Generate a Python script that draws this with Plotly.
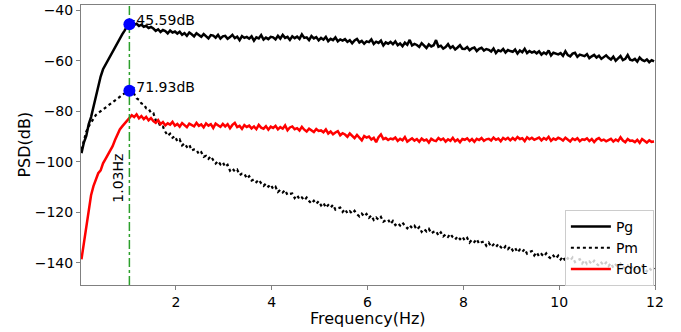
import numpy as np
import plotly.graph_objects as go

# Frequency grid (Hz): 0.03 .. 11.98, step 0.05
freq_start = 0.03
freq_step = 0.05
n_points = 240
freq = np.round(freq_start + freq_step * np.arange(n_points), 2)

pg = [
    -96.6, -92.4, -89.8, -85.2, -82.3, -78.1, -74.2, -69.8, -66.3, -63.4,
    -61.6, -60.2, -58.1, -56.4, -54.9, -52.8, -51.3, -49.6, -48.1, -46.4,
    -45.6, -45.1, -45.9, -45.4, -46.3, -45.8, -46.6, -46.2, -47.1, -46.7,
    -47.3, -48.2, -47.6, -48.7, -47.9, -48.3, -49.2, -48.1, -48.9, -48.5,
    -49.3, -48.6, -49.8, -49.1, -50.2, -48.9, -49.6, -50.4, -49.2, -49.9,
    -50.6, -49.5, -50.3, -51.2, -49.9, -50.1, -50.9, -49.8, -51.3, -50.4,
    -50.2, -51.4, -50.7, -49.8, -51.1, -50.5, -51.9, -50.3, -51.0, -50.6,
    -51.3, -50.4, -52.1, -50.8, -51.2, -49.9, -51.7, -50.9, -51.5, -50.6,
    -50.8, -51.6, -50.2, -51.3, -49.8, -51.0, -50.6, -51.8, -50.4, -51.1,
    -50.5, -51.4, -49.6, -51.0, -50.8, -51.9, -50.3, -51.2, -50.7, -52.0,
    -51.0, -51.7, -50.6, -52.3, -51.4, -51.9, -50.8, -52.4, -51.6, -52.1,
    -51.5, -52.6, -51.9, -53.1, -52.0, -51.4, -52.8, -52.2, -53.3, -52.4,
    -52.7, -51.6, -53.4, -52.5, -53.0, -52.1, -54.0, -52.8, -53.3, -52.6,
    -53.5, -52.4, -53.9, -53.2, -54.3, -52.9, -53.7, -51.8, -54.0, -53.4,
    -53.8, -54.6, -53.1, -54.2, -55.0, -53.6, -54.4, -53.9, -51.9, -54.5,
    -54.1, -55.2, -54.6, -53.5, -55.0, -54.3, -55.6, -54.8, -53.9, -55.3,
    -55.4, -54.6, -55.9, -55.1, -54.8, -56.2, -55.3, -54.9, -56.0, -55.4,
    -55.7, -56.4, -55.2, -57.0, -55.9, -56.3, -55.4, -56.8, -55.8, -56.2,
    -56.5, -55.6, -57.2, -56.0, -56.7, -55.3, -57.0, -56.2, -56.8, -56.4,
    -57.1, -56.3, -57.6, -56.8, -57.4, -56.0, -58.0, -56.9, -57.3, -57.5,
    -57.0, -58.1, -56.3, -57.8, -58.3, -57.2, -56.9, -58.5, -57.6, -58.0,
    -58.2, -57.4, -59.0, -58.3, -57.7, -58.8, -58.1, -59.3, -58.5, -57.9,
    -58.9, -59.6, -58.4, -60.0, -59.1, -58.2, -59.8, -59.3, -57.8, -59.6,
    -59.9, -59.3, -60.4, -58.8, -59.7, -60.2, -59.5, -60.6, -59.8, -60.3,
]

pm = [
    -95.2, -91.0, -88.1, -86.0, -84.6, -82.9, -81.5, -80.7, -80.0, -79.4,
    -78.8, -78.0, -77.3, -76.6, -75.8, -75.0, -74.3, -73.5, -72.9, -72.3,
    -71.9, -72.9, -73.2, -74.9, -75.5, -76.9, -77.3, -78.8, -79.0, -80.6,
    -80.7, -83.6, -83.9, -86.1, -86.1, -88.1, -89.7, -88.9, -90.5, -89.9,
    -91.9, -91.2, -93.5, -92.7, -94.1, -93.2, -95.5, -95.1, -95.2, -97.0,
    -96.2, -98.0, -97.6, -98.8, -97.8, -99.3, -100.7, -99.7, -101.0, -100.2,
    -102.0, -101.2, -103.5, -102.6, -103.8, -103.1, -105.2, -104.7, -104.7, -106.6,
    -105.7, -107.4, -106.9, -108.0, -107.1, -108.5, -109.5, -108.6, -109.8, -109.0,
    -110.7, -109.9, -111.9, -111.1, -112.1, -111.2, -113.1, -112.7, -112.5, -114.3,
    -113.2, -114.8, -114.1, -115.2, -114.1, -115.5, -116.5, -115.4, -116.6, -115.6,
    -117.2, -116.2, -118.1, -117.1, -118.1, -117.0, -118.9, -118.3, -118.1, -119.8,
    -118.7, -120.3, -119.5, -120.5, -119.4, -120.7, -121.6, -120.5, -121.6, -120.6,
    -122.1, -121.2, -123.0, -122.0, -122.9, -121.8, -123.7, -123.1, -122.8, -124.6,
    -123.4, -125.0, -124.2, -125.2, -124.0, -125.3, -126.3, -125.1, -126.2, -125.3,
    -126.8, -125.8, -127.7, -126.6, -127.5, -126.5, -128.3, -127.7, -127.4, -129.1,
    -127.9, -129.5, -128.7, -129.7, -128.5, -129.8, -130.7, -129.5, -130.6, -129.6,
    -131.1, -130.1, -131.9, -130.8, -131.7, -130.6, -132.4, -131.8, -131.5, -133.2,
    -132.0, -133.6, -132.7, -133.7, -132.5, -133.7, -134.6, -133.4, -134.5, -133.5,
    -135.0, -134.0, -135.8, -134.7, -135.6, -134.5, -136.3, -135.6, -135.3, -137.0,
    -135.8, -137.4, -136.5, -137.4, -136.2, -137.5, -138.3, -137.1, -138.2, -137.1,
    -138.6, -137.5, -139.3, -138.1, -139.0, -137.8, -139.6, -138.9, -138.5, -140.2,
    -138.9, -140.4, -139.4, -140.4, -139.1, -140.3, -141.1, -139.9, -140.9, -139.8,
    -141.2, -140.1, -141.9, -140.7, -141.5, -140.3, -142.0, -141.3, -140.9, -142.5,
    -141.2, -142.7, -141.7, -142.6, -141.3, -142.5, -143.3, -142.0, -143.0, -141.9,
]

fdot = [
    -138.5, -131.8, -124.6, -118.9, -113.2, -109.6, -107.3, -104.5, -103.4, -100.6,
    -98.9, -97.2, -95.6, -93.8, -91.4, -89.1, -87.2, -86.0, -84.9, -83.6,
    -82.4, -81.6, -82.3, -81.2, -82.8, -81.9, -83.1, -82.2, -83.6, -82.7,
    -83.9, -84.6, -83.5, -85.1, -84.3, -85.6, -84.8, -85.3, -84.2, -85.7,
    -85.0, -86.1, -84.7, -85.6, -86.3, -84.9, -85.4, -86.0, -84.6, -85.8,
    -85.2, -86.4, -84.8, -85.7, -85.1, -86.6, -84.9, -85.5, -86.2, -85.0,
    -86.0, -85.1, -86.7, -85.4, -84.6, -86.3, -85.8, -87.0, -85.5, -86.2,
    -85.7, -86.8, -86.0, -87.1, -85.4, -86.5, -86.9, -85.9, -87.3, -86.1,
    -86.6, -85.8, -87.2, -86.3, -86.9, -85.6, -87.5, -86.4, -86.0, -87.1,
    -86.7, -87.6, -86.2, -87.3, -88.0, -86.9, -87.4, -88.2, -87.0, -87.8,
    -87.6, -88.3, -87.2, -88.8, -88.0, -89.1, -88.4, -87.9, -89.5, -88.7,
    -89.2, -90.1, -88.8, -89.9, -90.6, -89.4, -90.3, -91.5, -89.8, -90.4,
    -90.0, -91.2, -90.5, -92.2, -90.3, -89.2, -91.0, -90.6, -91.4, -90.8,
    -91.1, -90.4, -91.7, -90.9, -91.5, -90.2, -92.0, -91.3, -90.7, -91.6,
    -91.0, -92.1, -90.8, -91.6, -91.2, -92.4, -90.9, -91.5, -91.8, -90.6,
    -91.4, -90.8, -92.0, -91.1, -91.7, -90.5, -91.9, -91.2, -92.3, -91.0,
    -91.3, -90.7, -91.8, -91.0, -92.1, -90.9, -91.4, -90.6, -91.7, -91.1,
    -90.9, -91.6, -90.4, -91.3, -90.8, -91.9, -90.6, -91.2, -90.5, -91.5,
    -90.6, -91.4, -90.2, -91.0, -90.7, -91.8, -90.3, -91.1, -90.5, -91.3,
    -91.0, -90.4, -91.5, -90.6, -91.2, -90.1, -91.7, -90.8, -91.3, -90.5,
    -90.9, -91.6, -90.5, -91.3, -92.0, -90.8, -91.4, -90.7, -91.9, -91.1,
    -91.3, -90.7, -91.8, -91.0, -92.2, -91.1, -90.6, -91.6, -91.2, -91.9,
    -91.5, -90.9, -92.0, -91.2, -91.8, -90.3, -91.6, -92.3, -91.0, -91.7,
    -91.6, -92.2, -91.3, -92.5, -91.0, -91.9, -92.4, -91.5, -92.1, -92.0,
]

peak_freq = 1.03
peak_values = [-45.59, -71.93]
peak_labels = ["\u221245.59dB", "\u221271.93dB"]
x_ticks = [2, 4, 6, 8, 10, 12]
y_ticks = [-140, -120, -100, -80, -60, -40]

FONT = "DejaVu Sans"
AXIS_COLOR = "#808080"
X_RANGE = [0.02, 12]
Y_RANGE = [-148.7, -38]

# label placement offsets (text only): start under the dot so the dot hides the minus sign
label_dx = -0.10
label_dy = 1.0

fig = go.Figure()
fig.add_trace(go.Scatter(x=freq, y=pg, mode="lines", name="Pg",
                         line=dict(color="black", width=2.5)))
fig.add_trace(go.Scatter(x=freq, y=pm, mode="lines", name="Pm",
                         line=dict(color="black", width=2.2, dash="dot")))
fig.add_trace(go.Scatter(x=freq, y=fdot, mode="lines", name="Fdot",
                         line=dict(color="red", width=2.5)))

# vertical marker line at the peak frequency
fig.add_trace(go.Scatter(x=[peak_freq, peak_freq], y=Y_RANGE, mode="lines",
                         line=dict(color="#2ca02c", width=1.5, dash="dashdot"),
                         showlegend=False, hoverinfo="skip"))

# peak labels (on base axes, below the markers so the dots hide the minus sign)
fig.add_trace(go.Scatter(x=[peak_freq + label_dx] * 2,
                         y=[v + label_dy for v in peak_values], mode="text",
                         text=peak_labels, textposition="middle right",
                         textfont=dict(family=FONT, size=14, color="black"),
                         showlegend=False, hoverinfo="skip"))

# peak markers on an overlaid, identical axis pair so they sit on top
fig.add_trace(go.Scatter(x=[peak_freq] * 2, y=peak_values, mode="markers",
                         marker=dict(color="blue", size=12, line=dict(width=0)),
                         xaxis="x2", yaxis="y2",
                         showlegend=False, hoverinfo="skip"))

fig.add_annotation(x=peak_freq, y=-106.5, xref="x", yref="y",
                   text=f"{peak_freq:.2f}Hz", textangle=-90, showarrow=False,
                   xanchor="right", yanchor="middle", xshift=-1,
                   font=dict(family=FONT, size=14, color="black"))

# axis titles
fig.add_annotation(x=0.5, y=-0.118, xref="paper", yref="paper",
                   text="Frequency(Hz)", showarrow=False,
                   xanchor="center", yanchor="middle",
                   font=dict(family=FONT, size=16, color="black"))
fig.add_annotation(x=-0.1, y=0.5, xref="paper", yref="paper",
                   text="PSD(dB)", showarrow=False, textangle=-90,
                   xanchor="center", yanchor="middle",
                   font=dict(family=FONT, size=16, color="black"))

fig.update_layout(
    width=681, height=332,
    margin=dict(l=81, r=26, t=5, b=47),
    paper_bgcolor="white", plot_bgcolor="white",
    font=dict(family=FONT, size=14, color="black"),
    showlegend=True,
    legend=dict(x=0.843, y=0.268, xanchor="left", yanchor="top",
                bgcolor="rgba(255,255,255,0.8)", bordercolor="#cccccc",
                borderwidth=1, font=dict(family=FONT, size=14, color="black"),
                itemwidth=40, tracegroupgap=0),
    xaxis=dict(range=X_RANGE, tickvals=x_ticks, ticks="outside", ticklen=4,
               tickcolor=AXIS_COLOR, showgrid=False, zeroline=False,
               showline=True, linecolor=AXIS_COLOR, linewidth=1, mirror=True,
               automargin=False,
               tickfont=dict(family=FONT, size=14, color="black")),
    yaxis=dict(range=Y_RANGE, tickvals=y_ticks, ticks="outside", ticklen=4,
               tickcolor=AXIS_COLOR, showgrid=False, zeroline=False,
               showline=True, linecolor=AXIS_COLOR, linewidth=1, mirror=True,
               automargin=False,
               tickfont=dict(family=FONT, size=14, color="black")),
    xaxis2=dict(range=X_RANGE, overlaying="x", visible=False, automargin=False),
    yaxis2=dict(range=Y_RANGE, overlaying="y", visible=False, automargin=False),
)

fig.write_html("out.html",
               config={"displayModeBar": False},
               post_script="document.body.style.margin='0';"
                           "document.body.style.padding='0';")
